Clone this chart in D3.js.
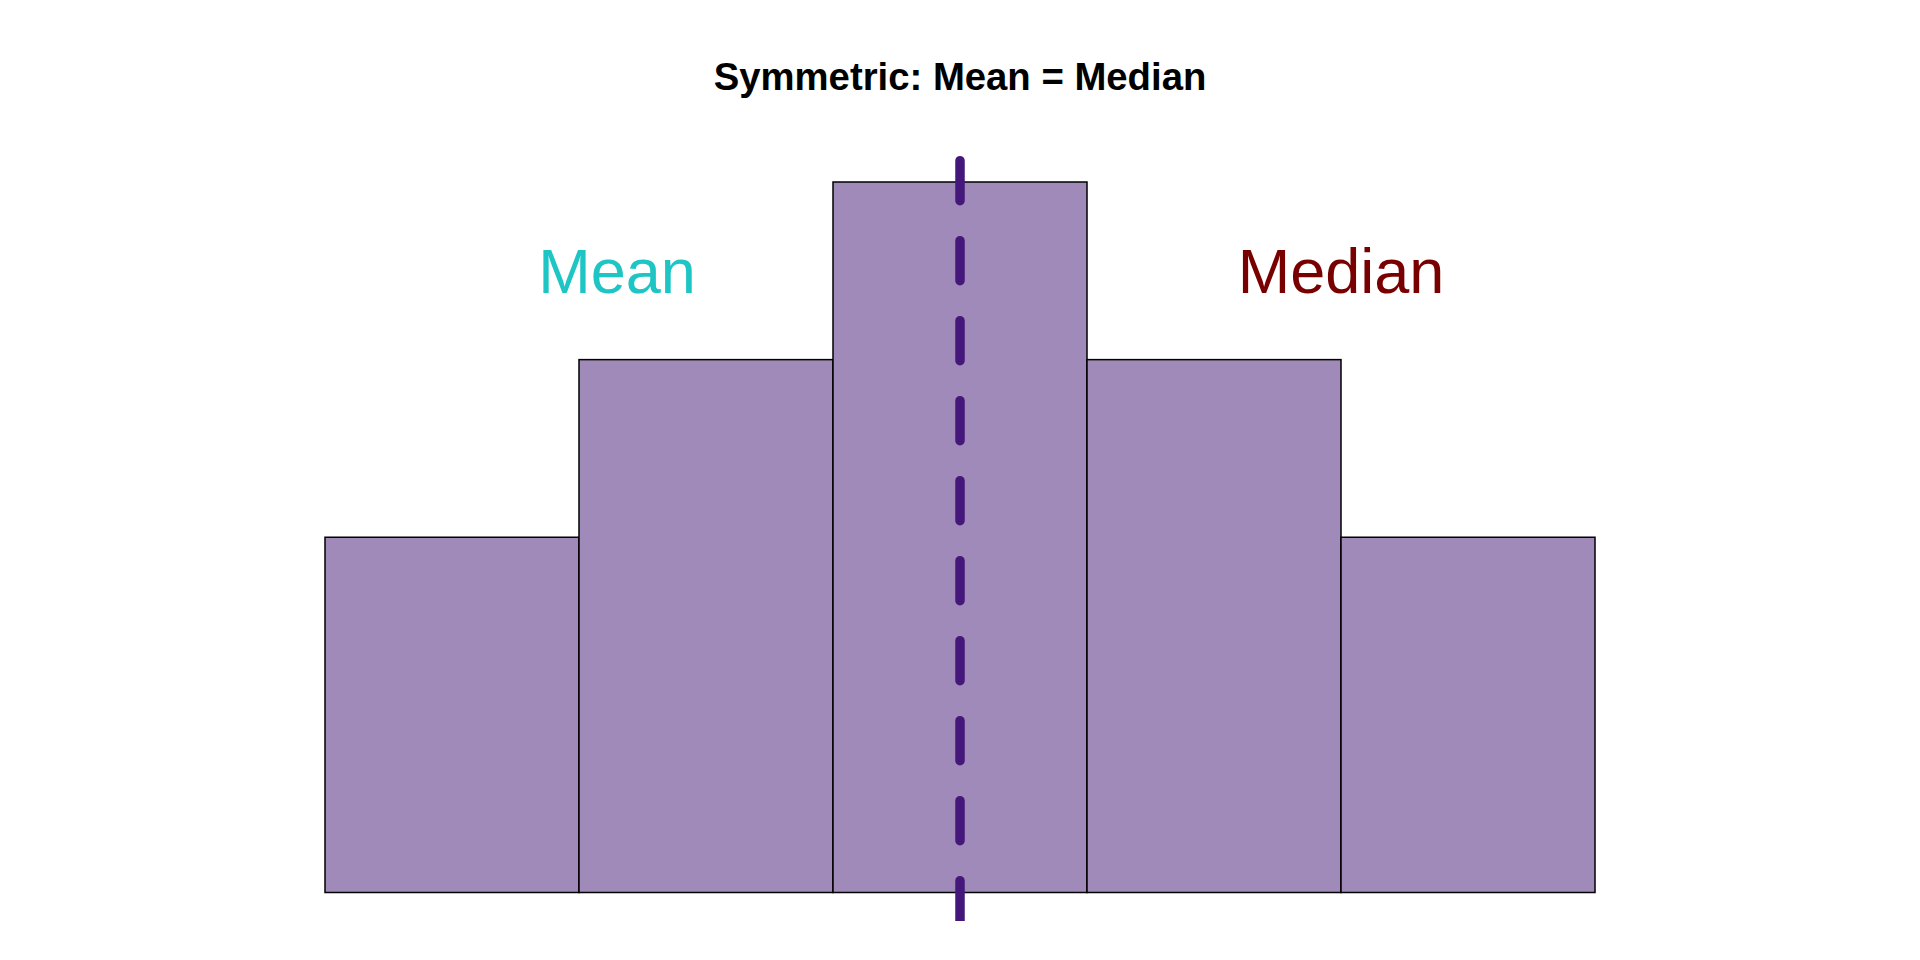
<!DOCTYPE html>
<html>
<head>
<meta charset="utf-8">
<script src="https://cdn.jsdelivr.net/npm/d3@7"></script>
<style>
  html, body { margin: 0; padding: 0; background: #fff; }
  svg { display: block; font-family: "Liberation Sans", Arial, sans-serif; }
</style>
</head>
<body>
<svg id="chart" width="1920" height="960"></svg>
<script>
// ---- data ----
const binCenters = [1, 2, 3, 4, 5];
const counts = [2, 3, 4, 3, 2];
const binWidth = 1;
const centerValue = 3;            // mean = median
const centerLineRange = [-0.16, 4.12];
const labels = ["Mean", "Median"];
const labelX = [1.65, 4.5];
const labelY = 3.375;
const titleText = "Symmetric: Mean = Median";

// ---- layout ----
const svg = d3.select("#chart");
const x = d3.scaleLinear().domain([0.5, 5.5]).range([325, 1595]);
const y = d3.scaleLinear().domain([0, 4]).range([892.5, 182]);

svg.append("defs").append("clipPath").attr("id", "panel")
  .append("rect").attr("x", 0).attr("y", 0).attr("width", 1920).attr("height", 921);

svg.append("text")
  .attr("x", 960).attr("y", 90)
  .attr("text-anchor", "middle")
  .attr("font-size", 38.3).attr("font-weight", "bold")
  .attr("fill", "#000")
  .text(titleText);

svg.append("g").selectAll("rect")
  .data(binCenters)
  .join("rect")
  .attr("x", (d) => x(d - binWidth / 2))
  .attr("width", (d) => x(d + binWidth / 2) - x(d - binWidth / 2))
  .attr("y", (d, i) => y(counts[i]))
  .attr("height", (d, i) => y(0) - y(counts[i]))
  .attr("fill", "#a08ab9")
  .attr("stroke", "#000")
  .attr("stroke-width", 1.5);

svg.append("line")
  .attr("clip-path", "url(#panel)")
  .attr("x1", x(centerValue)).attr("x2", x(centerValue))
  .attr("y1", y(centerLineRange[1])).attr("y2", y(centerLineRange[0]) + 6)
  .attr("stroke", "#44177a")
  .attr("stroke-width", 9.5)
  .attr("stroke-linecap", "round")
  .attr("stroke-dasharray", "40 40");

const labelColors = ["#1ec5c5", "#780000"];
svg.append("g").selectAll("text")
  .data(labels)
  .join("text")
  .attr("x", (d, i) => x(labelX[i]))
  .attr("y", y(labelY))
  .attr("text-anchor", "middle")
  .attr("font-size", 63)
  .attr("fill", (d, i) => labelColors[i])
  .text((d) => d);
</script>
</body>
</html>
